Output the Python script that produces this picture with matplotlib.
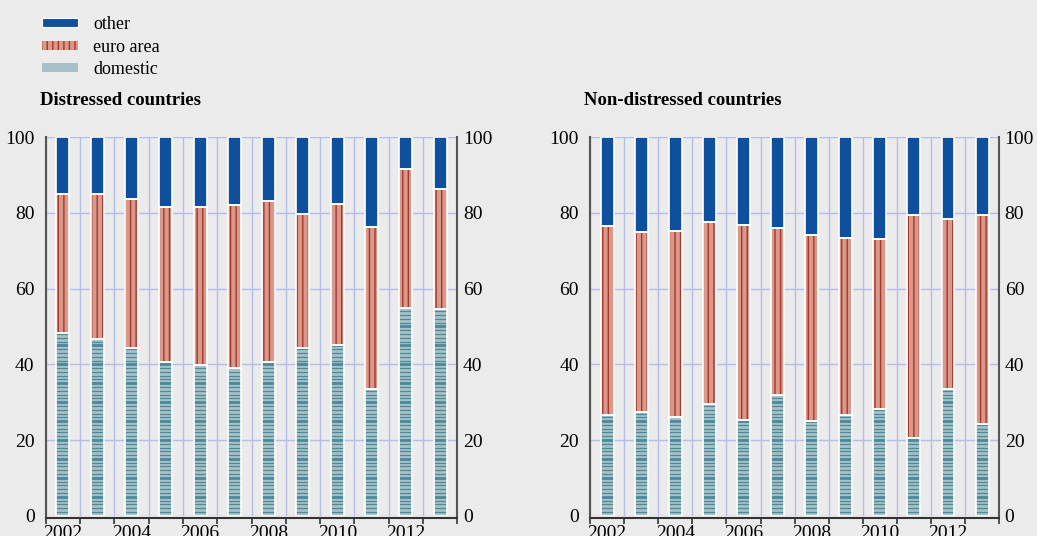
import matplotlib.pyplot as plt
from matplotlib.patches import Patch
import numpy as np

years = list(range(2002, 2014))

# shares in percent (cumulative tops)
distressed_domestic = [48.3, 46.6, 44.2, 40.7, 39.9, 38.9, 40.7, 44.2, 45.2, 33.6, 55.0, 54.5]
distressed_euro_top = [84.9, 84.9, 83.6, 81.5, 81.5, 82.0, 83.1, 79.6, 82.3, 76.3, 91.7, 86.2]
nondist_domestic = [26.5, 27.5, 26.0, 29.6, 25.4, 32.0, 25.1, 26.5, 28.3, 20.4, 33.6, 24.1]
nondist_euro_top = [76.5, 74.9, 75.1, 77.5, 76.7, 75.9, 74.1, 73.5, 73.2, 79.5, 78.4, 79.5]

bg = "#ebebeb"
c_other = "#0e4f9e"
c_euro = "#d9998a"
c_euro_line = "#a8352a"
c_dom = "#a7c0c8"
c_dom_line = "#4c8a98"
c_grid = "#b4bde6"
c_spine = "#555555"

plt.rcParams['font.family'] = ['Liberation Serif', 'DejaVu Serif']
plt.rcParams['hatch.linewidth'] = 1.0

fig = plt.figure(figsize=(10.37, 5.36), dpi=100, facecolor=bg)


def panel(ax, domestic, euro_top, title):
    x = np.arange(len(years))
    dom = np.array(domestic)
    euro = np.array(euro_top) - dom
    other = 100 - np.array(euro_top)
    w = 0.38
    ax.bar(x, dom, w, color=c_dom, linewidth=0, zorder=2)
    # horizontal stripes of the domestic bars, heavier every 5 points
    for xi, d in zip(x, dom):
        lv = np.arange(1, int(np.ceil(d)))
        thin = lv[lv % 5 != 0]
        thick = lv[lv % 5 == 0]
        ax.hlines(thin, xi - w / 2, xi + w / 2, color=c_dom_line, linewidth=0.9, zorder=2.5)
        ax.hlines(thick, xi - w / 2, xi + w / 2, color=c_dom_line, linewidth=2.0, zorder=2.5)
    # euro area: coloured hatch (edge not drawn, only used as hatch colour)
    ax.bar(x, euro, w, bottom=dom, color=c_euro, edgecolor=c_euro_line, hatch='|||', linewidth=0, zorder=2)
    ax.bar(x, other, w, bottom=euro_top, color=c_other, linewidth=0, zorder=2)
    # white outlines
    for b, h in [(0, dom), (dom, euro), (np.array(euro_top), other)]:
        ax.bar(x, h, w, bottom=b, fill=False, edgecolor='white', linewidth=1.2, zorder=3)

    ax.set_facecolor(bg)
    ax.set_xlim(-0.5, len(years) - 0.5)
    ax.set_ylim(0, 100)
    ax.set_yticks([0, 20, 40, 60, 80, 100])
    ax.set_xticks(np.arange(-0.5, len(years), 1.0))
    ax.set_xticklabels([])
    ax.set_xticks(x[::2], [str(y) for y in years[::2]], minor=True)
    ax.tick_params(axis='x', which='major', length=4, width=1.2, color='#333333', direction='out')
    ax.tick_params(axis='x', which='minor', length=0, pad=5, labelsize=14)
    ax.tick_params(axis='y', length=0, pad=8, labelsize=14)
    ax.grid(True, which='major', color=c_grid, linewidth=1.0)
    ax.set_axisbelow(True)
    ax.spines['top'].set_visible(False)
    for s in ['left', 'right']:
        ax.spines[s].set_color(c_spine)
        ax.spines[s].set_linewidth(1.5)
    ax.spines['bottom'].set_position(('outward', 1.5))
    ax.spines['bottom'].set_color('#333333')
    ax.spines['bottom'].set_linewidth(1.5)

    # labels on the right side
    axr = ax.twinx()
    axr.set_ylim(0, 100)
    axr.set_yticks([0, 20, 40, 60, 80, 100])
    axr.tick_params(axis='y', length=0, pad=4, labelsize=14)
    for s in axr.spines.values():
        s.set_visible(False)

    fig.text(ax.get_position().x0 - 0.006, 0.813, title, fontsize=13.5, fontweight='bold', va='center', ha='left')


ax1 = fig.add_axes([0.0441, 0.0379, 0.3969, 0.706])
ax2 = fig.add_axes([0.569, 0.0379, 0.3945, 0.706])
panel(ax1, distressed_domestic, distressed_euro_top, "Distressed countries")
panel(ax2, nondist_domestic, nondist_euro_top, "Non-distressed countries")

handles = [
    Patch(facecolor=c_other, edgecolor='white', linewidth=0.8),
    Patch(facecolor=c_euro, edgecolor=c_euro_line, hatch='|||', linewidth=0),
    Patch(facecolor=c_dom, edgecolor=c_dom_line, hatch='-', linewidth=0),
]
fig.legend(handles, ["other", "euro area", "domestic"], loc='upper left',
           bbox_to_anchor=(0.028, 0.993), frameon=False, fontsize=13, borderpad=0.2,
           handlelength=2.0, handleheight=0.4, handletextpad=0.85, labelspacing=0.3)

fig.savefig("out.png", dpi=100, facecolor=bg)
